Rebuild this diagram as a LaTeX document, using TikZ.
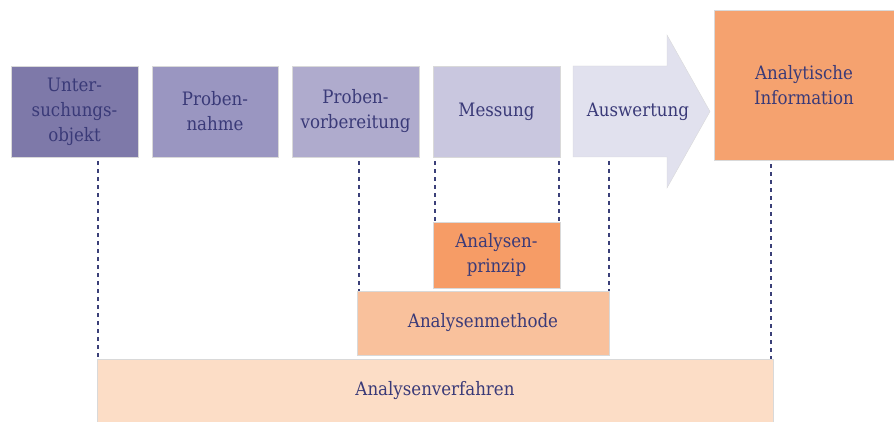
\documentclass[tikz,border=0pt]{standalone}
\usepackage{fontspec}
\setmainfont{DejaVu Serif Condensed}
\usetikzlibrary{calc}
\definecolor{txt}{HTML}{3A3A78}
\definecolor{cU}{HTML}{7E79A9}
\definecolor{cP}{HTML}{9A96C1}
\definecolor{cV}{HTML}{AFABCD}
\definecolor{cM}{HTML}{C9C7DF}
\definecolor{cA}{HTML}{E1E1EE}
\definecolor{cI}{HTML}{F5A26F}
\definecolor{cPr}{HTML}{F69C66}
\definecolor{cMe}{HTML}{F9C19C}
\definecolor{cVe}{HTML}{FCDDC6}
\definecolor{dl}{HTML}{3B4079}
\tikzset{
  box/.style={rectangle, inner sep=0pt, align=center, text=txt, font=\fontsize{18.5}{25}\selectfont, draw=white!85!black, line width=0.4pt},
  dl/.style={draw=dl, line width=1.1pt, dash pattern=on 4pt off 4pt}
}
\begin{document}
\begin{tikzpicture}[x=1pt,y=-1pt]
\useasboundingbox (0,0) rectangle (894,422);
\node[box, fill=cU, minimum width=127, minimum height=91] (u) at (74.5,111.5) {Unter-\\suchungs-\\objekt};
\node[box, fill=cP, minimum width=126, minimum height=91] (p) at (215,111.5) {Proben-\\nahme};
\node[box, fill=cV, minimum width=127, minimum height=91] (v) at (355.5,111.5) {Proben-\\vorbereitung};
\node[box, fill=cM, minimum width=127, minimum height=91] (m) at (496.5,111.5) {Messung};
\path[fill=cA, draw=white!85!black, line width=0.4pt] (573,66) -- (667,66) -- (667,35) -- (710,111.5) -- (667,188) -- (667,157) -- (573,157) -- cycle;
\node[box, draw=none] (a) at (638,111.5) {Auswertung};
\coordinate (abot) at (609,157);
\node[box, fill=cI, minimum width=180, minimum height=150] (i) at (804,85) {Analytische\\Information};
\node[box, fill=cPr, minimum width=127, minimum height=66] (pr) at (496.5,255) {Analysen-\\prinzip};
\node[box, fill=cMe, minimum width=252, minimum height=64] (me) at (483,323) {Analysenmethode};
\node[box, fill=cVe, minimum width=676, minimum height=63] (ve) at (435,390.5) {Analysenverfahren};
\coordinate (x1) at (98,0);
\coordinate (x2) at (359,0);
\coordinate (x3) at (435,0);
\coordinate (x4) at (559,0);
\coordinate (x6) at (771,0);
\draw[dl] ($(u.south -| x1)+(0,4)$) -- (ve.north -| x1);
\draw[dl] ($(v.south -| x2)+(0,4)$) -- (me.north -| x2);
\draw[dl] ($(m.south -| x3)+(0,4)$) -- (pr.north -| x3);
\draw[dl] ($(m.south -| x4)+(0,4)$) -- (pr.north -| x4);
\draw[dl] ($(abot)+(0,4)$) -- (me.north -| abot);
\draw[dl] ($(i.south -| x6)+(0,4)$) -- (ve.north -| x6);
\end{tikzpicture}
\end{document}
